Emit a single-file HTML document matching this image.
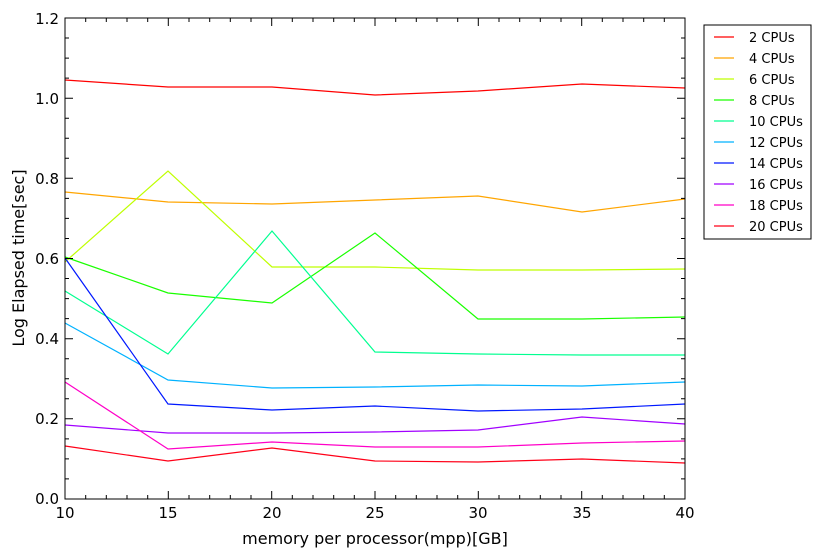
<!DOCTYPE html>
<html><head><meta charset="utf-8"><style>body{margin:0;background:#fff}svg{display:block}</style></head><body>
<svg width="821" height="557" xmlns="http://www.w3.org/2000/svg" font-family="DejaVu Sans, Liberation Sans, sans-serif">
<rect width="821" height="557" fill="#fff"/>
<g fill="none" stroke-width="1.2">
<polyline stroke="#ff0000" points="65,80 168,87 272,87 375,95 478,91 582,84 685,88"/>
<polyline stroke="#ffa500" points="65,192 168,202 272,204 375,200 478,196 582,212 685,199"/>
<polyline stroke="#bfff00" points="65,262 168,171 272,267 375,267 478,270 582,270 685,269"/>
<polyline stroke="#1aff00" points="65,257 168,293 272,303 375,233 478,319 582,319 685,317"/>
<polyline stroke="#00ff90" points="65,291 168,354 272,231 375,352 478,354 582,355 685,355"/>
<polyline stroke="#00b2ff" points="65,323 168,380 272,388 375,387 478,385 582,386 685,382"/>
<polyline stroke="#0018ff" points="65,258 168,404 272,410 375,406 478,411 582,409 685,404"/>
<polyline stroke="#a100ff" points="65,425 168,433 272,433 375,432 478,430 582,417 685,424"/>
<polyline stroke="#ff00c8" points="65,382 168,449 272,442 375,447 478,447 582,443 685,441"/>
<polyline stroke="#ff0018" points="65,446 168,461 272,448 375,461 478,462 582,459 685,463"/>
</g>
<rect x="65" y="18" width="620" height="481" fill="none" stroke="#000" stroke-width="1"/>
<path stroke="#000" fill="none" d="
M65,499v-8M168.3,499v-8M271.7,499v-8M375,499v-8M478.3,499v-8M581.7,499v-8M685,499v-8
M65,18v8M168.3,18v8M271.7,18v8M375,18v8M478.3,18v8M581.7,18v8M685,18v8
M65,499h8M65,418.8h8M65,338.7h8M65,258.5h8M65,178.3h8M65,98.2h8M65,18h8
M685,499h-8M685,418.8h-8M685,338.7h-8M685,258.5h-8M685,178.3h-8M685,98.2h-8M685,18h-8
"/>
<g font-size="15" fill="#000">
<g text-anchor="middle">
<text x="65" y="518">10</text><text x="168" y="518">15</text><text x="272" y="518">20</text><text x="375" y="518">25</text><text x="478" y="518">30</text><text x="582" y="518">35</text><text x="685" y="518">40</text>
</g>
<g text-anchor="end">
<text x="59" y="504">0.0</text><text x="59" y="424">0.2</text><text x="59" y="344">0.4</text><text x="59" y="264">0.6</text><text x="59" y="184">0.8</text><text x="59" y="104">1.0</text><text x="59" y="24">1.2</text>
</g>
<text x="375" y="544" text-anchor="middle" font-size="16">memory per processor(mpp)[GB]</text>
<text transform="translate(24,258) rotate(-90)" text-anchor="middle" font-size="16">Log Elapsed time[sec]</text>
</g>
<rect x="704" y="25" width="107" height="214" fill="#fff" stroke="#000"/>
<g font-size="13" stroke-width="1.2">
<line x1="714" x2="734" y1="37" y2="37" stroke="#ff0000"/><text x="749" y="42">2 CPUs</text>
<line x1="714" x2="734" y1="58" y2="58" stroke="#ffa500"/><text x="749" y="63">4 CPUs</text>
<line x1="714" x2="734" y1="79" y2="79" stroke="#bfff00"/><text x="749" y="84">6 CPUs</text>
<line x1="714" x2="734" y1="100" y2="100" stroke="#1aff00"/><text x="749" y="105">8 CPUs</text>
<line x1="714" x2="734" y1="121" y2="121" stroke="#00ff90"/><text x="749" y="126">10 CPUs</text>
<line x1="714" x2="734" y1="142" y2="142" stroke="#00b2ff"/><text x="749" y="147">12 CPUs</text>
<line x1="714" x2="734" y1="163" y2="163" stroke="#0018ff"/><text x="749" y="168">14 CPUs</text>
<line x1="714" x2="734" y1="184" y2="184" stroke="#a100ff"/><text x="749" y="189">16 CPUs</text>
<line x1="714" x2="734" y1="205" y2="205" stroke="#ff00c8"/><text x="749" y="210">18 CPUs</text>
<line x1="714" x2="734" y1="226" y2="226" stroke="#ff0018"/><text x="749" y="231">20 CPUs</text>
</g>
<path stroke="#000" fill="none" d="
M85.7,499v-4M106.3,499v-4M127,499v-4M147.7,499v-4M189,499v-4M209.7,499v-4M230.3,499v-4M251,499v-4M292.3,499v-4M313,499v-4M333.7,499v-4M354.3,499v-4M395.7,499v-4M416.3,499v-4M437,499v-4M457.7,499v-4M499,499v-4M519.7,499v-4M540.3,499v-4M561,499v-4M602.3,499v-4M623,499v-4M643.7,499v-4M664.3,499v-4
M85.7,18v4M106.3,18v4M127,18v4M147.7,18v4M189,18v4M209.7,18v4M230.3,18v4M251,18v4M292.3,18v4M313,18v4M333.7,18v4M354.3,18v4M395.7,18v4M416.3,18v4M437,18v4M457.7,18v4M499,18v4M519.7,18v4M540.3,18v4M561,18v4M602.3,18v4M623,18v4M643.7,18v4M664.3,18v4
M65,478.9h4M65,458.9h4M65,438.9h4M65,398.8h4M65,378.7h4M65,358.7h4M65,318.6h4M65,298.6h4M65,278.5h4M65,238.5h4M65,218.4h4M65,198.4h4M65,158.3h4M65,138.3h4M65,118.2h4M65,78.1h4M65,58.1h4M65,38h4
M685,478.9h-4M685,458.9h-4M685,438.9h-4M685,398.8h-4M685,378.7h-4M685,358.7h-4M685,318.6h-4M685,298.6h-4M685,278.5h-4M685,238.5h-4M685,218.4h-4M685,198.4h-4M685,158.3h-4M685,138.3h-4M685,118.2h-4M685,78.1h-4M685,58.1h-4M685,38h-4
"/>
</svg>
</body></html>
